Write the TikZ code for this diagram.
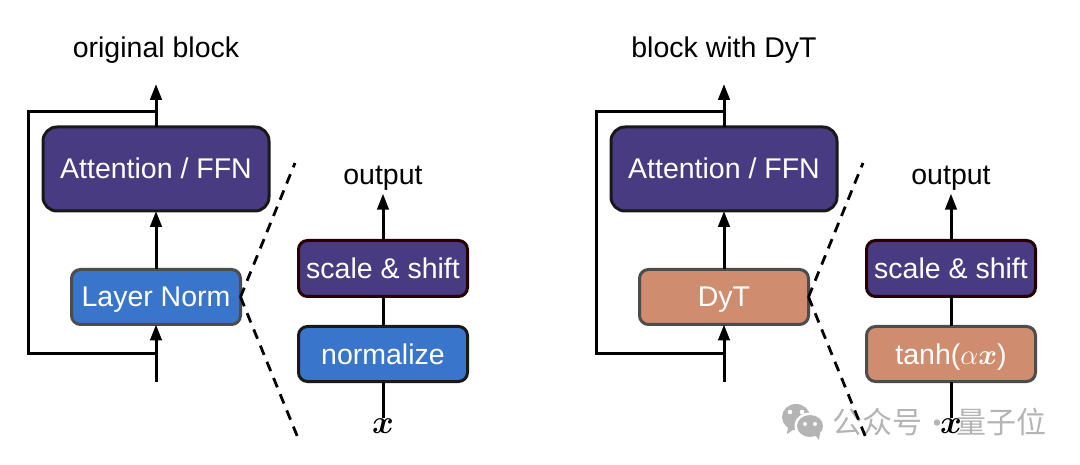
\RequirePackage{fix-cm}
\documentclass[tikz,border=0pt]{standalone}
\usepackage{amsmath}
\usepackage{fontspec}
\setmainfont{Liberation Sans}
\newfontfamily\cjkfont{Noto Sans CJK SC}
\usepackage{tikz}
\usetikzlibrary{positioning,arrows.meta}
\definecolor{attncolor}{HTML}{483B82}
\definecolor{normcolor}{HTML}{3A75CC}
\definecolor{dytcolor}{HTML}{CF8C6F}
\definecolor{markcolor}{HTML}{B4B4B4}
\tikzset{
>={Triangle[length=16pt,width=11.5pt]},
  boxbase/.style={
    rectangle,
    rounded corners=9pt,
    line width=3pt,
    outer sep=0pt,
    inner sep=0pt,
    text height=20pt,
    text depth=0pt,
    text=white,
    text centered},
  attention/.style={boxbase, fill=attncolor, draw=black!90, rounded corners=14pt, minimum width=226pt, minimum height=84pt},
  layernorm/.style={boxbase, fill=normcolor, draw=black!70, minimum width=169pt, minimum height=55pt},
  dyt/.style={boxbase, fill=dytcolor, draw=black!70, minimum width=169pt, minimum height=55pt},
  scaleshift/.style={boxbase, fill=attncolor, draw=black!70!red!50!black, minimum width=169pt, minimum height=56pt},
  normalize/.style={boxbase, fill=normcolor, draw=black!90, minimum width=169pt, minimum height=55pt},
  tanhbox/.style={boxbase, fill=dytcolor, draw=black!70, minimum width=169pt, minimum height=55pt},
  label/.style={text=black},
  inputlabel/.style={text=black, font=\fontsize{33}{36}\selectfont, inner sep=0pt},
  myarrow/.style={draw, line width=3pt},
  mydash/.style={draw, line width=2.8pt, dash pattern=on 10pt off 7.500pt},
  watermark/.style={text=markcolor, font=\cjkfont\fontsize{30}{32}\selectfont, inner sep=0pt},
}
\begin{document}
\begin{tikzpicture}[x=1pt,y=-1pt,font=\fontsize{28.500}{32}\selectfont]
      \useasboundingbox (0,0) rectangle (1080,465);

      % watermark
      \fill[markcolor] (796,417) ellipse (14 and 13);
      \fill[markcolor] (788,426) -- (787,434) -- (796,428) -- cycle;
      \fill[white] (810,426) ellipse (15.500 and 13.500);
      \fill[markcolor] (810,426) ellipse (13 and 11);
      \fill[markcolor] (815,435) -- (819,440) -- (820,433) -- cycle;
      \fill[white] (790,412) circle (2.300) (802,412) circle (2.300) (805,424) circle (2) (815,424) circle (2);
      \node[watermark] (mark1) at (877,422) {公众号};
      \node[watermark] (mark2) at (1001,422) {量子位};
      \node[watermark] (mark3) at (937,427) {·};

      % original block
      \node[attention] (item1) at (156,169) {Attention / FFN};
      \node[layernorm, below=58.500pt of item1] (item2) {Layer Norm};
      \node[label] (title1) at (156,50) {original block};
      \coordinate (AuxTop1) at (156,84);
      \coordinate (AuxJoin1) at (156,112);
      \coordinate (AuxLoop1) at (28,112);
      \coordinate (AuxLoop2) at (28,354);
      \coordinate (AuxJoin2) at (156,354);
      \coordinate (AuxIn1) at (156,382);
      \coordinate (AuxDash1) at (295,163);
      \coordinate (AuxDash2) at (298,438);

      \node[scaleshift] (item3) at (383,268.500) {scale \& shift};
      \node[normalize, below=30pt of item3] (item4) {normalize};
      \node[label] (output1) at (383,178) {output};
      \node[inputlabel] (input1) at (383,426) {$\boldsymbol{x}$};

      \path[myarrow,->] (item1.north) -- (AuxTop1);
      \path[myarrow,->] (item2.north) -- (item1.south);
      \path[myarrow,->] (AuxIn1) -- (item2.south);
      \path[myarrow,line join=miter] (AuxJoin1) -- (AuxLoop1) -- (AuxLoop2) -- (AuxJoin2);
      \path[myarrow,->] (item3.north) -- (output1.south);
      \path[myarrow] (item4.north) -- (item3.south);
      \path[myarrow] (input1.north) -- (item4.south);
      \path[mydash] (item2.east) -- (AuxDash1);
      \path[mydash] (item2.east) -- (AuxDash2);

      % block with DyT
      \node[attention] (item5) at (724,169) {Attention / FFN};
      \node[dyt, below=58.500pt of item5] (item6) {DyT};
      \node[label] (title2) at (724,50) {block with DyT};
      \coordinate (AuxTop2) at (724,84);
      \coordinate (AuxJoin3) at (724,112);
      \coordinate (AuxLoop3) at (596,112);
      \coordinate (AuxLoop4) at (596,354);
      \coordinate (AuxJoin4) at (724,354);
      \coordinate (AuxIn2) at (724,382);
      \coordinate (AuxDash3) at (863,163);
      \coordinate (AuxDash4) at (866,438);

      \node[scaleshift] (item7) at (951,268.500) {scale \& shift};
      \node[tanhbox, below=30pt of item7] (item8) {tanh($\alpha\boldsymbol{x}$)};
      \node[label] (output2) at (951,178) {output};
      \node[inputlabel] (input2) at (951,426) {$\boldsymbol{x}$};

      \path[myarrow,->] (item5.north) -- (AuxTop2);
      \path[myarrow,->] (item6.north) -- (item5.south);
      \path[myarrow,->] (AuxIn2) -- (item6.south);
      \path[myarrow,line join=miter] (AuxJoin3) -- (AuxLoop3) -- (AuxLoop4) -- (AuxJoin4);
      \path[myarrow,->] (item7.north) -- (output2.south);
      \path[myarrow] (item8.north) -- (item7.south);
      \path[myarrow] (input2.north) -- (item8.south);
      \path[mydash] (item6.east) -- (AuxDash3);
      \path[mydash] (item6.east) -- (AuxDash4);
\end{tikzpicture}
\end{document}
